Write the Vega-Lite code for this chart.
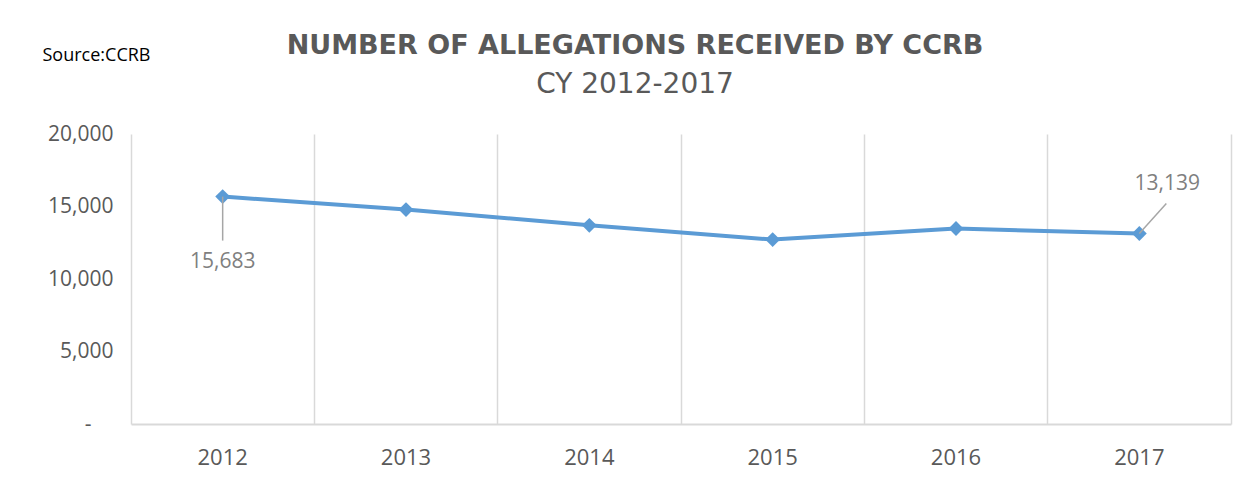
{
  "$schema": "https://vega.github.io/schema/vega-lite/v6.json",
  "width": 1100,
  "height": 290,
  "autosize": {"type": "none"},
  "padding": {"left": 131, "top": 134, "right": 26, "bottom": 59},
  "background": "white",
  "title": {
    "text": "NUMBER OF ALLEGATIONS RECEIVED BY CCRB",
    "subtitle": "CY 2012-2017",
    "font": "DejaVu Sans",
    "fontSize": 27,
    "fontWeight": "bold",
    "color": "#595959",
    "subtitleFont": "DejaVu Sans",
    "subtitleFontSize": 28,
    "subtitleColor": "#595959",
    "subtitlePadding": 11,
    "anchor": "middle",
    "dx": -46,
    "offset": -54
  },
  "data": {
    "values": [
      {"year": 2012, "value": 15683, "label": "15,683"},
      {"year": 2013, "value": 14790, "label": ""},
      {"year": 2014, "value": 13700, "label": ""},
      {"year": 2015, "value": 12720, "label": ""},
      {"year": 2016, "value": 13480, "label": ""},
      {"year": 2017, "value": 13139, "label": "13,139"}
    ]
  },
  "encoding": {
    "x": {
      "field": "year",
      "type": "ordinal",
      "scale": {"type": "band", "paddingInner": 0, "paddingOuter": 0},
      "axis": {
        "title": null,
        "bandPosition": 0,
        "grid": true,
        "gridColor": "#d9d9d9",
        "gridWidth": 1.5,
        "ticks": false,
        "domainColor": "#d9d9d9",
        "domainWidth": 2,
        "labelAngle": 0,
        "labelFont": "Open Sans",
        "labelFontSize": 22,
        "labelColor": "#595959",
        "labelPadding": 23
      }
    }
  },
  "layer": [
    {
      "mark": {"type": "line", "color": "#5b9bd5", "strokeWidth": 4},
      "encoding": {
        "y": {
          "field": "value",
          "type": "quantitative",
          "scale": {"domain": [0, 20000]},
          "axis": {
            "orient": "left",
            "values": [0, 5000, 10000, 15000, 20000],
            "labelExpr": "datum.value === 0 ? '-' : format(datum.value, ',')",
            "grid": false,
            "ticks": false,
            "domain": false,
            "labelPadding": {"condition": {"test": "datum.value === 0", "value": 40}, "value": 18},
            "labelFont": "Open Sans",
            "labelFontSize": 21,
            "labelColor": "#595959",
            "title": "Source:CCRB",
            "titleAngle": 0,
            "titleX": -89,
            "titleY": -74,
            "titleAlign": "left",
            "titleBaseline": "alphabetic",
            "titleFont": "Open Sans",
            "titleFontSize": 18,
            "titleFontWeight": "normal",
            "titleColor": "#000000"
          }
        }
      }
    },
    {
      "mark": {"type": "point", "shape": "diamond", "filled": true, "size": 220, "color": "#5b9bd5", "opacity": 1},
      "encoding": {
        "y": {
          "field": "value",
          "type": "quantitative",
          "axis": {"orient": "right", "labels": false, "ticks": false, "grid": false, "title": null, "domain": true, "domainColor": "#d9d9d9", "domainWidth": 1.5}
        }
      }
    },
    {
      "transform": [{"filter": "datum.year === 2012"}],
      "mark": {"type": "rule", "color": "#a6a6a6", "strokeWidth": 1.5, "y2Offset": 44},
      "encoding": {
        "y": {"field": "value", "type": "quantitative", "axis": null},
        "y2": {"field": "value"}
      }
    },
    {
      "transform": [{"filter": "datum.year === 2017"}],
      "mark": {"type": "rule", "color": "#a6a6a6", "strokeWidth": 1.5, "x2Offset": 27, "y2Offset": -30},
      "encoding": {
        "x2": {"field": "year"},
        "y": {"field": "value", "type": "quantitative", "axis": null},
        "y2": {"field": "value"}
      }
    },
    {
      "transform": [{"filter": "datum.year === 2012"}],
      "mark": {"type": "text", "dy": 65, "font": "Open Sans", "fontSize": 21, "color": "#7f7f7f", "baseline": "middle"},
      "encoding": {
        "y": {"field": "value", "type": "quantitative", "axis": null},
        "text": {"field": "label"}
      }
    },
    {
      "transform": [{"filter": "datum.year === 2017"}],
      "mark": {"type": "text", "dx": 28, "dy": -49, "font": "Open Sans", "fontSize": 21, "color": "#7f7f7f", "baseline": "middle"},
      "encoding": {
        "y": {"field": "value", "type": "quantitative", "axis": null},
        "text": {"field": "label"}
      }
    }
  ],
  "resolve": {"axis": {"y": "independent"}},
  "config": {"view": {"stroke": null}}
}
